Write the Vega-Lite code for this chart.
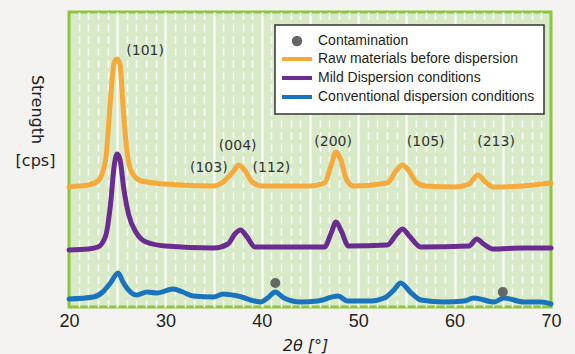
{
  "$schema": "https://vega.github.io/schema/vega-lite/v6.json",
  "width": 482,
  "height": 295,
  "autosize": {"type": "none"},
  "padding": {"left": 69, "top": 12, "right": 24, "bottom": 47},
  "background": "#f4f3f1",
  "config": {
    "view": {"fill": "#d9eac9", "stroke": "#8cc63f", "strokeWidth": 3},
    "font": "Liberation Sans"
  },
  "resolve": {"axis": {"x": "independent", "y": "independent"}},
  "layer": [
    {
      "data": {"values": [
        {"series": "Raw materials before dispersion", "x": 20, "y": 120},
        {"series": "Raw materials before dispersion", "x": 21, "y": 121},
        {"series": "Raw materials before dispersion", "x": 22, "y": 122},
        {"series": "Raw materials before dispersion", "x": 23, "y": 126},
        {"series": "Raw materials before dispersion", "x": 23.8, "y": 147},
        {"series": "Raw materials before dispersion", "x": 24.3, "y": 207},
        {"series": "Raw materials before dispersion", "x": 24.7, "y": 245},
        {"series": "Raw materials before dispersion", "x": 25, "y": 248},
        {"series": "Raw materials before dispersion", "x": 25.3, "y": 242},
        {"series": "Raw materials before dispersion", "x": 25.6, "y": 202},
        {"series": "Raw materials before dispersion", "x": 26, "y": 157},
        {"series": "Raw materials before dispersion", "x": 26.5, "y": 135},
        {"series": "Raw materials before dispersion", "x": 27.5, "y": 126},
        {"series": "Raw materials before dispersion", "x": 30, "y": 123},
        {"series": "Raw materials before dispersion", "x": 35, "y": 121},
        {"series": "Raw materials before dispersion", "x": 36, "y": 125},
        {"series": "Raw materials before dispersion", "x": 37, "y": 135},
        {"series": "Raw materials before dispersion", "x": 37.6, "y": 142},
        {"series": "Raw materials before dispersion", "x": 38.2, "y": 137},
        {"series": "Raw materials before dispersion", "x": 39, "y": 125},
        {"series": "Raw materials before dispersion", "x": 40, "y": 121},
        {"series": "Raw materials before dispersion", "x": 45, "y": 121},
        {"series": "Raw materials before dispersion", "x": 46.5, "y": 124},
        {"series": "Raw materials before dispersion", "x": 47.2, "y": 142},
        {"series": "Raw materials before dispersion", "x": 47.7, "y": 155},
        {"series": "Raw materials before dispersion", "x": 48.2, "y": 147},
        {"series": "Raw materials before dispersion", "x": 48.8, "y": 127},
        {"series": "Raw materials before dispersion", "x": 49.5, "y": 121},
        {"series": "Raw materials before dispersion", "x": 53, "y": 124},
        {"series": "Raw materials before dispersion", "x": 54, "y": 137},
        {"series": "Raw materials before dispersion", "x": 54.6, "y": 142},
        {"series": "Raw materials before dispersion", "x": 55.2, "y": 137},
        {"series": "Raw materials before dispersion", "x": 56, "y": 125},
        {"series": "Raw materials before dispersion", "x": 57, "y": 121},
        {"series": "Raw materials before dispersion", "x": 60, "y": 120},
        {"series": "Raw materials before dispersion", "x": 61.5, "y": 123},
        {"series": "Raw materials before dispersion", "x": 62.4, "y": 132},
        {"series": "Raw materials before dispersion", "x": 63.2, "y": 125},
        {"series": "Raw materials before dispersion", "x": 64, "y": 120},
        {"series": "Raw materials before dispersion", "x": 67, "y": 121},
        {"series": "Raw materials before dispersion", "x": 70, "y": 124},

        {"series": "Mild Dispersion conditions", "x": 20, "y": 57},
        {"series": "Mild Dispersion conditions", "x": 22, "y": 58},
        {"series": "Mild Dispersion conditions", "x": 23, "y": 60},
        {"series": "Mild Dispersion conditions", "x": 23.8, "y": 71},
        {"series": "Mild Dispersion conditions", "x": 24.3, "y": 102},
        {"series": "Mild Dispersion conditions", "x": 24.7, "y": 142},
        {"series": "Mild Dispersion conditions", "x": 25, "y": 153},
        {"series": "Mild Dispersion conditions", "x": 25.3, "y": 147},
        {"series": "Mild Dispersion conditions", "x": 25.7, "y": 117},
        {"series": "Mild Dispersion conditions", "x": 26.2, "y": 92},
        {"series": "Mild Dispersion conditions", "x": 27, "y": 74},
        {"series": "Mild Dispersion conditions", "x": 28, "y": 65},
        {"series": "Mild Dispersion conditions", "x": 30, "y": 61},
        {"series": "Mild Dispersion conditions", "x": 35, "y": 59},
        {"series": "Mild Dispersion conditions", "x": 36.5, "y": 63},
        {"series": "Mild Dispersion conditions", "x": 37.2, "y": 73},
        {"series": "Mild Dispersion conditions", "x": 37.8, "y": 77},
        {"series": "Mild Dispersion conditions", "x": 38.4, "y": 71},
        {"series": "Mild Dispersion conditions", "x": 39.3, "y": 60},
        {"series": "Mild Dispersion conditions", "x": 46.5, "y": 60},
        {"series": "Mild Dispersion conditions", "x": 47.2, "y": 74},
        {"series": "Mild Dispersion conditions", "x": 47.7, "y": 85},
        {"series": "Mild Dispersion conditions", "x": 48.2, "y": 77},
        {"series": "Mild Dispersion conditions", "x": 49, "y": 61},
        {"series": "Mild Dispersion conditions", "x": 53, "y": 62},
        {"series": "Mild Dispersion conditions", "x": 54, "y": 73},
        {"series": "Mild Dispersion conditions", "x": 54.6, "y": 78},
        {"series": "Mild Dispersion conditions", "x": 55.3, "y": 71},
        {"series": "Mild Dispersion conditions", "x": 56.5, "y": 60},
        {"series": "Mild Dispersion conditions", "x": 61.5, "y": 61},
        {"series": "Mild Dispersion conditions", "x": 62.3, "y": 68},
        {"series": "Mild Dispersion conditions", "x": 63, "y": 63},
        {"series": "Mild Dispersion conditions", "x": 64, "y": 58},
        {"series": "Mild Dispersion conditions", "x": 67, "y": 59},
        {"series": "Mild Dispersion conditions", "x": 70, "y": 59},

        {"series": "Conventional dispersion conditions", "x": 20, "y": 8},
        {"series": "Conventional dispersion conditions", "x": 22.5, "y": 10},
        {"series": "Conventional dispersion conditions", "x": 23.5, "y": 15},
        {"series": "Conventional dispersion conditions", "x": 24.3, "y": 24},
        {"series": "Conventional dispersion conditions", "x": 25.1, "y": 34},
        {"series": "Conventional dispersion conditions", "x": 25.6, "y": 25},
        {"series": "Conventional dispersion conditions", "x": 26, "y": 19},
        {"series": "Conventional dispersion conditions", "x": 27, "y": 12},
        {"series": "Conventional dispersion conditions", "x": 28.1, "y": 15},
        {"series": "Conventional dispersion conditions", "x": 29.1, "y": 14},
        {"series": "Conventional dispersion conditions", "x": 30.8, "y": 18},
        {"series": "Conventional dispersion conditions", "x": 31.8, "y": 15},
        {"series": "Conventional dispersion conditions", "x": 32.9, "y": 11},
        {"series": "Conventional dispersion conditions", "x": 35, "y": 10},
        {"series": "Conventional dispersion conditions", "x": 36, "y": 13},
        {"series": "Conventional dispersion conditions", "x": 37.5, "y": 11},
        {"series": "Conventional dispersion conditions", "x": 39.9, "y": 5},
        {"series": "Conventional dispersion conditions", "x": 40.6, "y": 9},
        {"series": "Conventional dispersion conditions", "x": 41.4, "y": 15},
        {"series": "Conventional dispersion conditions", "x": 42.3, "y": 9},
        {"series": "Conventional dispersion conditions", "x": 44, "y": 5},
        {"series": "Conventional dispersion conditions", "x": 45.8, "y": 6},
        {"series": "Conventional dispersion conditions", "x": 47.9, "y": 11},
        {"series": "Conventional dispersion conditions", "x": 48.9, "y": 6},
        {"series": "Conventional dispersion conditions", "x": 51.3, "y": 6},
        {"series": "Conventional dispersion conditions", "x": 52.7, "y": 9},
        {"series": "Conventional dispersion conditions", "x": 53.7, "y": 17},
        {"series": "Conventional dispersion conditions", "x": 54.4, "y": 24},
        {"series": "Conventional dispersion conditions", "x": 55.5, "y": 14},
        {"series": "Conventional dispersion conditions", "x": 56.5, "y": 7},
        {"series": "Conventional dispersion conditions", "x": 58.9, "y": 5},
        {"series": "Conventional dispersion conditions", "x": 61, "y": 6},
        {"series": "Conventional dispersion conditions", "x": 62, "y": 9},
        {"series": "Conventional dispersion conditions", "x": 64.1, "y": 5},
        {"series": "Conventional dispersion conditions", "x": 65.1, "y": 9},
        {"series": "Conventional dispersion conditions", "x": 67.2, "y": 5},
        {"series": "Conventional dispersion conditions", "x": 69, "y": 5},
        {"series": "Conventional dispersion conditions", "x": 70, "y": 3}
      ]},
      "mark": {"type": "line", "strokeWidth": 5, "interpolate": "monotone", "strokeCap": "round", "strokeJoin": "round"},
      "encoding": {
        "x": {
          "field": "x", "type": "quantitative",
          "scale": {"domain": [20, 70], "nice": false, "zero": false},
          "axis": {
            "orient": "bottom",
            "values": [20, 25, 30, 35, 40, 45, 50, 55, 60, 65, 70],
            "labelExpr": "datum.value % 10 === 0 ? datum.label : ''",
            "grid": true, "gridColor": "#ffffff", "gridWidth": 2,
            "gridOpacity": {"condition": {"test": "datum.value === 20 || datum.value === 70", "value": 0}, "value": 1},
            "ticks": false, "domain": false,
            "labelFontSize": 18, "labelColor": "#231f20", "labelPadding": 5,
            "labelFlush": false,
            "title": "2θ [°]", "titleFontSize": 16, "titleFontWeight": "normal", "titleFontStyle": "italic",
            "titleColor": "#231f20", "titlePadding": 7, "titleFont": "DejaVu Sans", "titleX": 236
          }
        },
        "y": {
          "field": "y", "type": "quantitative",
          "scale": {"domain": [0, 295], "nice": false},
          "axis": {
            "labels": false, "ticks": false, "domain": false, "grid": false,
            "title": "Strength", "titleAngle": 90, "titleX": -33, "titleY": 97,
            "titleAlign": "center", "titleBaseline": "middle",
            "titleFont": "DejaVu Sans", "titleFontSize": 16, "titleFontWeight": "normal", "titleColor": "#231f20"
          }
        },
        "color": {
          "field": "series", "type": "nominal", "sort": null,
          "scale": {
            "domain": ["Contamination", "Raw materials before dispersion", "Mild Dispersion conditions", "Conventional dispersion conditions"],
            "range": ["#666666", "#f6aa3b", "#6a2c91", "#1a74bd"]
          },
          "legend": {
            "orient": "none", "legendX": 206, "legendY": 13,
            "title": null,
            "fillColor": "#ffffff", "strokeColor": "#333333",
            "padding": 9, "rowPadding": 3,
            "labelFontSize": 14, "labelColor": "#231f20", "labelFont": "Liberation Sans", "labelLimit": 0,
            "symbolOffset": 6, "labelOffset": 14,
            "encode": {
              "legend": {"update": {"strokeWidth": {"value": 1.5}}},
              "symbols": {"update": {
                "shape": {"signal": "datum.value === 'Contamination' ? 'circle' : 'M-3,0H3'"},
                "size": {"signal": "datum.value === 'Contamination' ? 110 : 100"},
                "fill": {"signal": "datum.value === 'Contamination' ? '#666666' : 'transparent'"},
                "stroke": {"signal": "datum.value === 'Contamination' ? 'transparent' : scale('color', datum.value)"},
                "strokeWidth": {"signal": "datum.value === 'Contamination' ? 0 : 4"},
                "opacity": {"value": 1}
              }}
            }
          }
        },
        "order": {"field": "x"}
      }
    },
    {
      "data": {"values": [
        {"series": "Contamination", "x": 41.4, "y": 24},
        {"series": "Contamination", "x": 65, "y": 15}
      ]},
      "mark": {"type": "point", "filled": true, "size": 100, "color": "#666666", "opacity": 1},
      "encoding": {
        "x": {"field": "x", "type": "quantitative", "axis": null},
        "y": {
          "field": "y", "type": "quantitative",
          "axis": {
            "orient": "left",
            "labels": false, "ticks": false, "domain": false, "grid": false,
            "title": "[cps]", "titleAngle": 0, "titleX": -34, "titleY": 148,
            "titleAlign": "center", "titleBaseline": "middle",
            "titleFont": "DejaVu Sans", "titleFontSize": 16, "titleFontWeight": "normal", "titleColor": "#231f20"
          }
        }
      }
    },
    {
      "data": {"values": [
        {"label": "(101)", "x": 27.9, "y": 256},
        {"label": "(004)", "x": 37.5, "y": 161},
        {"label": "(103)", "x": 34.5, "y": 139},
        {"label": "(112)", "x": 41.0, "y": 139},
        {"label": "(200)", "x": 47.4, "y": 165},
        {"label": "(105)", "x": 57.0, "y": 165},
        {"label": "(213)", "x": 64.3, "y": 165}
      ]},
      "mark": {"type": "text", "fontSize": 14, "color": "#333333", "font": "DejaVu Sans", "align": "center", "baseline": "middle"},
      "encoding": {
        "x": {
          "field": "x", "type": "quantitative",
          "axis": {
            "orient": "top",
            "values": [21, 22, 23, 24, 26, 27, 28, 29, 31, 32, 33, 34, 36, 37, 38, 39, 41, 42, 43, 44, 46, 47, 48, 49, 51, 52, 53, 54, 56, 57, 58, 59, 61, 62, 63, 64, 66, 67, 68, 69],
            "grid": true, "gridColor": "#ffffff", "gridWidth": 1.5, "gridDash": [7, 5], "gridOpacity": 1,
            "labels": false, "ticks": false, "domain": false, "title": null
          }
        },
        "y": {"field": "y", "type": "quantitative", "axis": null},
        "text": {"field": "label"}
      }
    }
  ]
}
